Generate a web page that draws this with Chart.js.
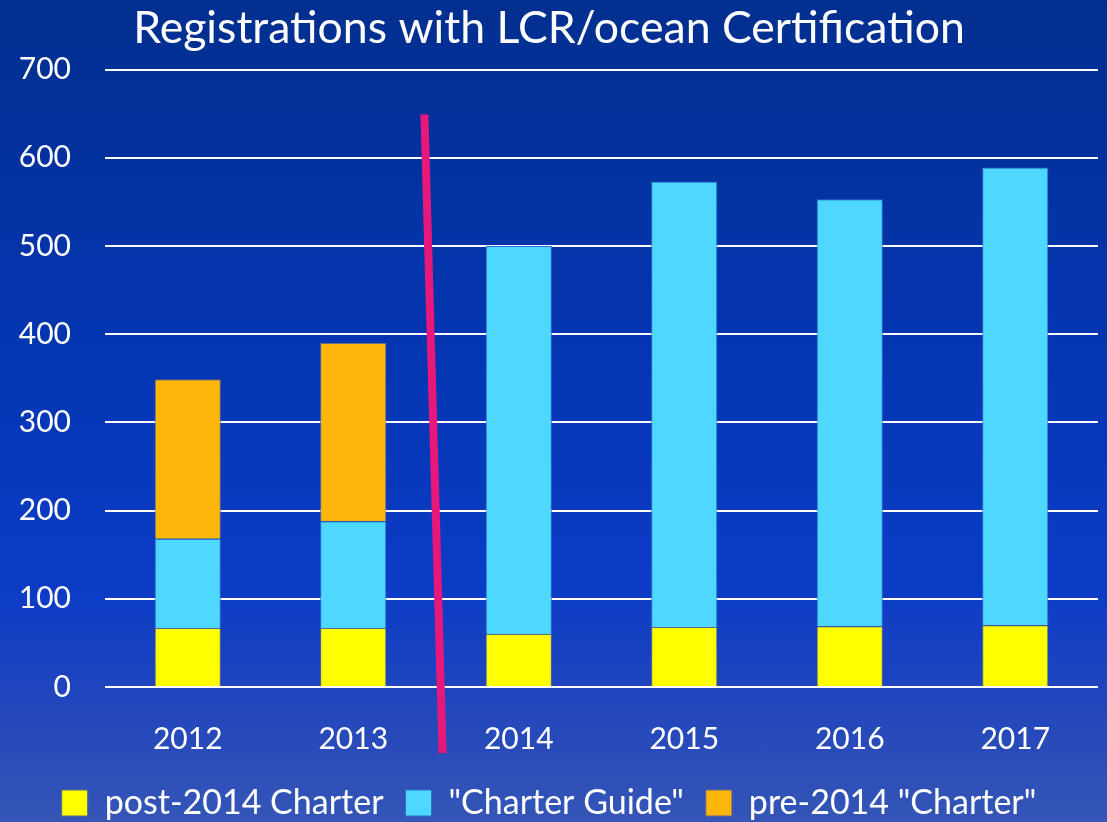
<!DOCTYPE html>
<html>
<head>
<meta charset="utf-8">
<script src="https://cdn.jsdelivr.net/npm/chart.js@4"></script>
<style>
  html, body { margin: 0; padding: 0; }
  body {
    width: 1107px; height: 822px; overflow: hidden;
    background: linear-gradient(to bottom, #022f8f 0%, #0436b4 45%, #0c3cc6 72%, #2548bb 88%, #3556b6 100%);
  }
  #wrap { width: 1107px; height: 822px; }
</style>
</head>
<body>
<div id="wrap"><canvas id="chart"></canvas></div>
<script>
var years = ["2012", "2013", "2014", "2015", "2016", "2017"];
var post2014Charter = [67, 67, 60, 68, 69, 70];
var charterGuide = [101, 121, 440, 505, 484, 519];
var pre2014Charter = [181, 202, 0, 0, 0, 0];
var yTicks = [0, 100, 200, 300, 400, 500, 600, 700];

// hand drawn divider between 2013 and 2014, in data units (category index, value)
var dividerX = [1.43, 1.54];
var dividerY = [649, -75];

var dividerPlugin = {
    id: 'divider',
    afterDatasetsDraw: function (chart) {
        var x = chart.scales.x, y = chart.scales.y, ctx = chart.ctx;
        ctx.save();
        ctx.strokeStyle = '#e8177a';
        ctx.lineWidth = 8;
        ctx.beginPath();
        ctx.moveTo(x.getPixelForValue(dividerX[0]), y.getPixelForValue(dividerY[0]));
        ctx.lineTo(x.getPixelForValue(dividerX[1]), y.getPixelForValue(dividerY[1]));
        ctx.stroke();
        ctx.restore();
    }
};

Chart.defaults.font.family = 'Lato, "Open Sans", sans-serif';
Chart.defaults.color = '#ffffff';

new Chart(document.getElementById("chart"), {
    type: 'bar',
    data: {
        labels: years,
        datasets: [
            {
                label: "post-2014 Charter",
                backgroundColor: "#ffff00",
                borderColor: "#5b6a8a",
                borderWidth: 1,
                data: post2014Charter
            }, {
                label: "\"Charter Guide\"",
                backgroundColor: "#4fd8ff",
                borderColor: "#2f6fd0",
                borderWidth: 1,
                data: charterGuide
            }, {
                label: "pre-2014 \"Charter\"",
                backgroundColor: "#ffb60a",
                borderColor: "#6a6a8a",
                borderWidth: 1,
                data: pre2014Charter
            }
        ]
    },
    options: {
        responsive: true,
        maintainAspectRatio: false,
        animation: false,
        layout: { padding: { left: 0, right: 9, top: 2, bottom: -8 } },
        datasets: { bar: { barPercentage: 0.4, categoryPercentage: 1.0 } },
        scales: {
            x: {
                stacked: true,
                afterFit: function (axis) { axis.height = 77; },
                grid: { display: false, drawTicks: false },
                border: { display: false },
                ticks: { font: { size: 30 }, padding: 34, color: '#ffffff' }
            },
            y: {
                stacked: true,
                min: 0,
                max: 700,
                afterBuildTicks: function (axis) {
                    axis.ticks = yTicks.map(function (v) { return { value: v }; });
                },
                afterFit: function (axis) { axis.width = 105; },
                grid: { color: '#ffffff', lineWidth: 2, drawTicks: false },
                border: { display: false },
                ticks: { font: { size: 30 }, padding: 34, color: '#ffffff' }
            }
        },
        plugins: {
            title: {
                display: true,
                text: 'Registrations with LCR/ocean Certification',
                font: { size: 44.6, weight: 'normal' },
                color: '#ffffff',
                padding: { top: 0, bottom: 14 }
            },
            legend: {
                position: 'bottom',
                labels: {
                    boxWidth: 26,
                    boxHeight: 26,
                    padding: 22,
                    font: { size: 34 },
                    color: '#ffffff'
                }
            },
            tooltip: { enabled: false }
        }
    },
    plugins: [dividerPlugin]
});
</script>
</body>
</html>
